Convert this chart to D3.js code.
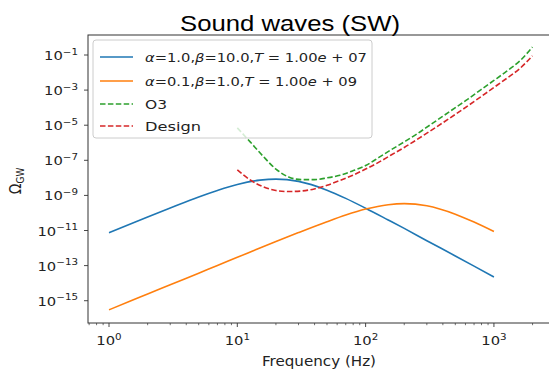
<!DOCTYPE html>
<html><head><meta charset="utf-8">
<script src="https://cdn.jsdelivr.net/npm/d3@7"></script>
<style>body{margin:0;background:#fff}svg{display:block}</style>
</head><body><svg id="c" width="549" height="370"></svg>
<script>
// ---- data ----
const freqSW = [1,1.5,2,3,5,7,10,15,20,30,50,70,100,150,200,300,500,700,1000];
const logOmegaA1 = [-11.13,-10.60,-10.23,-9.72,-9.09,-8.72,-8.38,-8.13,-8.07,-8.20,-8.70,-9.17,-9.73,-10.40,-10.88,-11.58,-12.45,-13.03,-13.65];
const logOmegaA01 = [-15.52,-14.99,-14.62,-14.09,-13.43,-12.99,-12.53,-12.00,-11.63,-11.12,-10.50,-10.12,-9.78,-9.53,-9.47,-9.59,-10.07,-10.52,-11.06];
const freqDet = [10,12.6,15.8,20,25.1,31.6,39.8,50.1,63.1,79.4,100,126,158,200,251,316,398,501,631,794,1000,1259,1585,1995];
const logOmegaO3 = [-5.15,-5.95,-6.75,-7.5,-7.95,-8.1,-8.1,-8.0,-7.85,-7.6,-7.3,-6.85,-6.4,-5.95,-5.5,-5.0,-4.5,-4.0,-3.5,-2.97,-2.45,-1.92,-1.35,-0.55];
const logOmegaDesign = [-7.55,-8.12,-8.5,-8.72,-8.78,-8.75,-8.63,-8.42,-8.15,-7.85,-7.5,-7.12,-6.7,-6.27,-5.82,-5.35,-4.87,-4.38,-3.88,-3.37,-2.85,-2.33,-1.78,-1.05];
const xTickExps = [0,1,2,3];
const yTickExps = [-1,-3,-5,-7,-9,-11,-13,-15];
const seriesNames = ["α=1.0,β=10.0,T = 1.00e + 07","α=0.1,β=1.0,T = 1.00e + 09","O3","Design"];

const svg = d3.select("#c");
const L = 88, R = 550, T = 35, B = 323;
const SX = 1.2; // horizontal stretch of the reference text
const x = d3.scaleLog().domain([Math.pow(10,-0.1637), Math.pow(10,3.437)]).range([L, R]);
const y = d3.scaleLog().domain([Math.pow(10,-16.27), Math.pow(10,0.1396)]).range([B, T]);

const series = [
  {f: freqSW, v: logOmegaA1, color: "#1f77b4", dash: null},
  {f: freqSW, v: logOmegaA01, color: "#ff7f0e", dash: null},
  {f: freqDet, v: logOmegaO3, color: "#2ca02c", dash: "5.5,2.4"},
  {f: freqDet, v: logOmegaDesign, color: "#d62728", dash: "5.5,2.4"}
];

const line = d3.line().x(d => x(d[0])).y(d => y(d[1])).curve(d3.curveMonotoneX);
series.forEach(s => {
  const pts = s.f.map((f, i) => [f, Math.pow(10, s.v[i])]);
  svg.append("path").attr("d", line(pts)).attr("fill", "none")
    .attr("stroke", s.color).attr("stroke-width", 1.6)
    .attr("stroke-dasharray", s.dash);
});

// frame
svg.append("rect").attr("x", L).attr("y", T).attr("width", R - L).attr("height", B - T)
  .attr("fill", "none").attr("stroke", "#333").attr("stroke-width", 1);

// x ticks
const font = "DejaVu Sans, sans-serif";
const minorX = x.ticks().filter(t => Math.abs(Math.log10(t) - Math.round(Math.log10(t))) > 1e-6);
minorX.forEach(t => {
  svg.append("line").attr("x1", x(t)).attr("x2", x(t)).attr("y1", B).attr("y2", B + 2.2)
    .attr("stroke", "#333").attr("stroke-width", 0.7);
});
xTickExps.forEach(e => {
  const px = x(Math.pow(10, e));
  svg.append("line").attr("x1", px).attr("x2", px).attr("y1", B).attr("y2", B + 4)
    .attr("stroke", "#333").attr("stroke-width", 0.9);
  const g = svg.append("g").attr("transform", `translate(${px},345) scale(${SX},1)`);
  const t = g.append("text").attr("x", 0).attr("y", 0).attr("text-anchor", "middle")
    .attr("font-family", font).attr("font-size", 12.3).attr("fill", "#222");
  t.append("tspan").text("10");
  t.append("tspan").attr("dy", -5.5).attr("font-size", 8.6).text(String(e));
});

// y ticks
yTickExps.forEach(e => {
  const py = y(Math.pow(10, e));
  svg.append("line").attr("x1", L - 4).attr("x2", L).attr("y1", py).attr("y2", py)
    .attr("stroke", "#333").attr("stroke-width", 0.9);
  const g = svg.append("g").attr("transform", `translate(78,${py + 5}) scale(${SX},1)`);
  const t = g.append("text").attr("x", 0).attr("y", 0).attr("text-anchor", "end")
    .attr("font-family", font).attr("font-size", 12.3).attr("fill", "#222");
  t.append("tspan").text("10");
  t.append("tspan").attr("dy", -5.5).attr("font-size", 8.6).text("−" + Math.abs(e));
});

// axis labels
svg.append("g").attr("transform", `translate(${(L + R) / 2},366) scale(1.12,1)`)
  .append("text").attr("text-anchor", "middle")
  .attr("font-family", font).attr("font-size", 13.5).attr("fill", "#222").text("Frequency (Hz)");
const yl = svg.append("text").attr("transform", "translate(21,181) rotate(-90) scale(1,1.15)")
  .attr("text-anchor", "middle").attr("font-family", font).attr("font-size", 14).attr("fill", "#222");
yl.append("tspan").text("Ω");
yl.append("tspan").attr("dy", 3).attr("font-size", 9).text("GW");

// title
svg.append("text").attr("x", 290).attr("y", 31).attr("text-anchor", "middle")
  .attr("font-family", "Liberation Sans, Arial, sans-serif").attr("font-size", 22.5)
  .attr("fill", "#000").attr("textLength", 220).attr("lengthAdjust", "spacingAndGlyphs")
  .text("Sound waves (SW)");

// legend
const lg = svg.append("g");
lg.append("rect").attr("x", 93).attr("y", 40).attr("width", 279).attr("height", 98).attr("rx", 3)
  .attr("fill", "#fff").attr("fill-opacity", 0.8).attr("stroke", "#ccc").attr("stroke-width", 1);
const rowY = [57, 81, 104, 126];
series.forEach((s, i) => {
  lg.append("line").attr("x1", 100).attr("x2", 133).attr("y1", rowY[i]).attr("y2", rowY[i])
    .attr("stroke", s.color).attr("stroke-width", 1.6).attr("stroke-dasharray", s.dash);
});
function mathLabel(i, parts, width) {
  const t = lg.append("text").attr("x", 145).attr("y", rowY[i] + 4.5)
    .attr("font-family", font).attr("font-size", 12.8).attr("fill", "#222");
  parts.forEach(p => t.append("tspan").attr("font-style", p[1] ? "italic" : null).text(p[0]));
  if (width) t.attr("textLength", width).attr("lengthAdjust", "spacingAndGlyphs");
}
function splitMath(s) {
  // italic for Greek letters, T and e (mathtext variables)
  const out = [];
  for (const ch of s) {
    const it = /[αβTe]/.test(ch);
    if (out.length && out[out.length - 1][1] === it) out[out.length - 1][0] += ch;
    else out.push([ch, it]);
  }
  return out;
}
mathLabel(0, splitMath(seriesNames[0]), 222);
mathLabel(1, splitMath(seriesNames[1]), 212);
mathLabel(2, [[seriesNames[2], false]], 22);
mathLabel(3, [[seriesNames[3], false]], 56);
</script></body></html>
